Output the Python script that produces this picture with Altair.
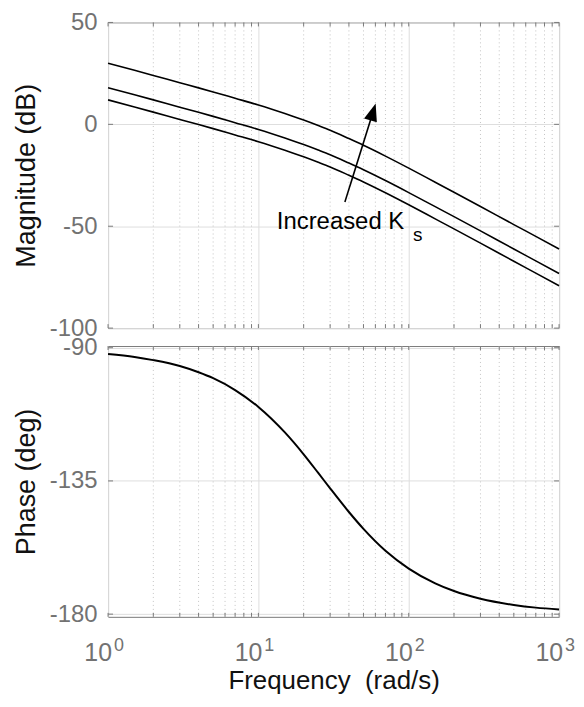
import altair as alt
import pandas as pd

# ---- data ----
freq = [1, 1.5, 2, 3, 4, 5, 7, 10, 15, 20, 25, 30, 40, 50, 70, 100, 150, 200, 300, 500, 700, 1000]
mag_high = [30.0, 26.5, 24.0, 20.4, 17.9, 15.9, 12.8, 9.5, 5.3, 2.1, -0.6, -2.9, -7.0, -10.3,
            -15.6, -21.5, -28.4, -33.3, -40.3, -49.2, -55.0, -61.2]
mag_mid = [18.0, 14.5, 12.0, 8.4, 5.9, 3.9, 0.8, -2.5, -6.7, -9.9, -12.6, -14.9, -19.0, -22.3,
           -27.6, -33.5, -40.4, -45.3, -52.3, -61.2, -67.0, -73.2]
mag_low = [12.0, 8.5, 6.0, 2.4, -0.1, -2.1, -5.2, -8.5, -12.7, -15.9, -18.6, -20.9, -25.0, -28.3,
           -33.6, -39.5, -46.4, -51.3, -58.3, -67.2, -73.0, -79.2]
phase = [-92.1, -93.1, -94.2, -96.2, -98.3, -100.3, -104.3, -110.0, -118.6, -126.0, -132.3,
         -137.5, -145.5, -151.2, -158.6, -164.6, -169.6, -172.2, -174.8, -176.9, -177.8, -178.4]

decades = [1, 10, 100, 1000]
exponents = ["0", "1", "2", "3"]
minor_freq = [2, 3, 4, 5, 6, 7, 8, 9, 20, 30, 40, 50, 60, 70, 80, 90,
              200, 300, 400, 500, 600, 700, 800, 900]
mag_ticks = [-100, -50, 0, 50]
phase_ticks = [-180, -135, -90]

arrow_from = (37.6, -38.1)
arrow_to = (57.9, 6.1)
label_main = "Increased K"
label_main_pos = (13.26, -51.3)
label_sub = "s"
label_sub_pos = (106.8, -57.1)

# ---- styling ----
FONT = "Liberation Sans"
GRAY = "#727272"
FRAME = "#7a7a7a"
GRID = "#dedede"
MINOR = "#c4c4c4"
W, H1, H2 = 453, 307, 272

mag_df = pd.DataFrame({
    "freq": freq * 3,
    "mag": mag_high + mag_mid + mag_low,
    "series": ["high"] * len(freq) + ["mid"] * len(freq) + ["low"] * len(freq),
})
phase_df = pd.DataFrame({"freq": freq, "phase": phase})
minor_df = pd.DataFrame({"freq": minor_freq})
alltick_df = pd.DataFrame({"freq": minor_freq + decades})
dec_df = pd.DataFrame({"freq": decades, "base": ["10"] * 4, "exp": exponents})
magtick_df = pd.DataFrame({"v": mag_ticks})
phtick_df = pd.DataFrame({"v": phase_ticks})
arrow_df = pd.DataFrame({"freq": [arrow_from[0]], "v": [arrow_from[1]],
                         "x2": [arrow_to[0]], "y2": [arrow_to[1]]})
head_df = pd.DataFrame({"freq": [arrow_to[0]], "v": [arrow_to[1]]})
txt_df = pd.DataFrame({"freq": [label_main_pos[0]], "v": [label_main_pos[1]], "t": [label_main]})
sub_df = pd.DataFrame({"freq": [label_sub_pos[0]], "v": [label_sub_pos[1]], "t": [label_sub]})

xscale = alt.Scale(type="log", domain=[1, 1000], nice=False)


def panel(height, yscale, yaxis, xaxis, tick_df, main_layers):
    def X(field="freq:Q"):
        return alt.X(field, scale=xscale, axis=xaxis)

    def Y(field="v:Q"):
        return alt.Y(field, scale=yscale, axis=yaxis)

    layers = []
    layers.append(alt.Chart(minor_df).mark_rule(color=MINOR, strokeDash=[1, 3], strokeWidth=1)
                  .encode(x=X()))
    layers.append(alt.Chart(alltick_df).mark_rule(color=FRAME, strokeWidth=1)
                  .encode(x=X(), y=alt.value(0), y2=alt.value(4)))
    layers.append(alt.Chart(alltick_df).mark_rule(color=FRAME, strokeWidth=1)
                  .encode(x=X(), y=alt.value(height), y2=alt.value(height - 4)))
    layers.append(alt.Chart(tick_df).mark_rule(color=FRAME, strokeWidth=1)
                  .encode(y=Y(), x=alt.value(0), x2=alt.value(5)))
    layers.append(alt.Chart(tick_df).mark_rule(color=FRAME, strokeWidth=1)
                  .encode(y=Y(), x=alt.value(W), x2=alt.value(W - 5)))
    layers += main_layers(X, Y)
    return alt.layer(*layers).properties(width=W, height=height)


LABEL_EXPR = "'' + datum.value"

# ---- magnitude panel ----
mscale = alt.Scale(domain=[-100, 50], nice=False, zero=False)
maxis = alt.Axis(values=mag_ticks, grid=True, gridColor=GRID, ticks=False, tickSize=0,
                 domain=False, labelPadding=11, labelExpr=LABEL_EXPR,
                 title="Magnitude (dB)", titlePadding=9)
xaxis_t = alt.Axis(values=decades, grid=True, gridColor=GRID, labels=False, ticks=False,
                   tickSize=0, domain=False, title=None)


def mag_layers(X, Y):
    lines = alt.Chart(mag_df).mark_line(color="black", strokeWidth=1.6, interpolate="monotone").encode(
        x=X(), y=Y("mag:Q"), detail="series:N")
    arrow = alt.Chart(arrow_df).mark_rule(color="black", strokeWidth=1.6).encode(
        x=X(), y=Y(), x2="x2:Q", y2="y2:Q")
    head = alt.Chart(head_df).mark_point(
        shape="M0,-1L-0.75,1L0.75,1Z", filled=True, color="black", opacity=1, size=320, angle=17
    ).encode(x=X(), y=Y())
    text = alt.Chart(txt_df).mark_text(
        align="left", baseline="alphabetic", font=FONT, fontSize=24, color="black"
    ).encode(x=X(), y=Y(), text="t:N")
    sub = alt.Chart(sub_df).mark_text(
        align="left", baseline="alphabetic", font=FONT, fontSize=19, color="black"
    ).encode(x=X(), y=Y(), text="t:N")
    return [lines, arrow, head, text, sub]


top = panel(H1, mscale, maxis, xaxis_t, magtick_df, mag_layers)

# ---- phase panel ----
pscale = alt.Scale(domain=[-180.91, -89.43], nice=False, zero=False)
paxis = alt.Axis(values=phase_ticks, grid=True, gridColor=GRID, ticks=False, tickSize=0,
                 domain=False, labelPadding=11, labelExpr=LABEL_EXPR,
                 title="Phase (deg)", titlePadding=9)
xaxis_b = alt.Axis(values=decades, grid=True, gridColor=GRID, labels=False, ticks=False,
                   tickSize=0, domain=False, title="Frequency\u00a0 (rad/s)", titlePadding=51,
                   titleFontSize=26)


def phase_layers(X, Y):
    line = alt.Chart(phase_df).mark_line(color="black", strokeWidth=2, interpolate="monotone").encode(
        x=X(), y=Y("phase:Q"))
    base = alt.Chart(dec_df).mark_text(
        align="right", baseline="alphabetic", font=FONT, fontSize=25, color=GRAY, dx=4
    ).encode(x=X(), y=alt.value(H2 + 44), text="base:N")
    exp = alt.Chart(dec_df).mark_text(
        align="left", baseline="alphabetic", font=FONT, fontSize=18, color=GRAY, dx=6
    ).encode(x=X(), y=alt.value(H2 + 34), text="exp:N")
    return [line, base, exp]


bottom = panel(H2, pscale, paxis, xaxis_b, phtick_df, phase_layers)

chart = alt.vconcat(top, bottom, spacing=18, bounds="flush").resolve_scale(
    x="independent", y="independent"
).properties(
    padding={"left": 3.5, "top": 0, "right": 0, "bottom": 0},
    background="white",
).configure_view(
    stroke=FRAME, strokeWidth=1
).configure_axis(
    labelFont=FONT, labelFontSize=24, labelColor=GRAY,
    titleFont=FONT, titleFontSize=27, titleColor="#111111", titleFontWeight="normal",
)

chart.save("out.html", embed_options={"renderer": "svg", "actions": False})
